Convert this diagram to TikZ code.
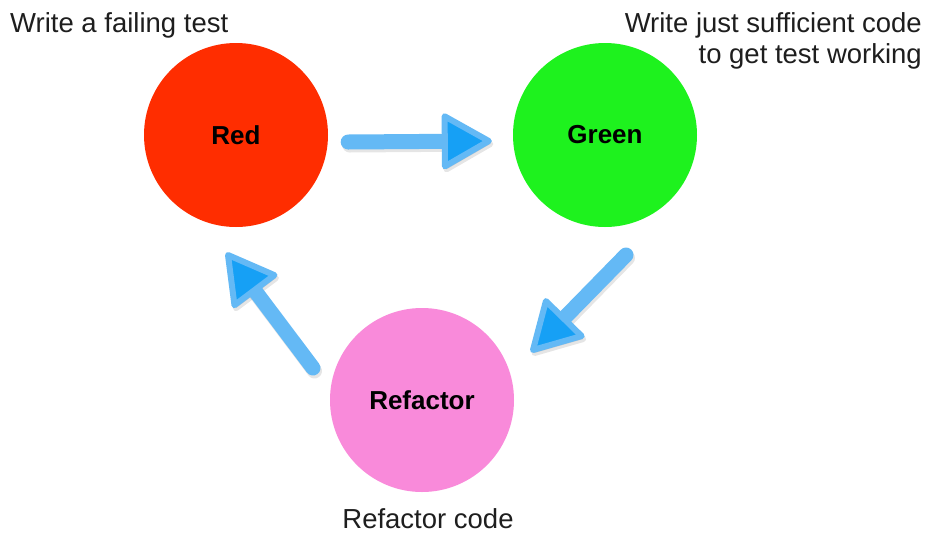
\documentclass[tikz,border=0pt]{standalone}
\usepackage{fontspec}
\setmainfont{Liberation Sans}
\usetikzlibrary{calc}
\definecolor{redstage}{RGB}{255,45,0}
\definecolor{greenstage}{RGB}{30,242,30}
\definecolor{pinkstage}{RGB}{249,138,218}
\definecolor{arrowlight}{RGB}{100,185,245}
\definecolor{arrowdark}{RGB}{22,160,245}
\definecolor{notetext}{RGB}{30,30,30}
\newcommand\cyclearrow[2]{%
  \coordinate (hb) at ($(#2)!44pt!(#1)$);
  \begin{scope}[transform canvas={shift={(1.5pt,-3pt)}}]
    \draw[arrowshadow, line width=15pt] (#1) -- (hb);
    \filldraw[arrowshadow, line width=6pt] (#2) -- ($(hb)!25pt!90:(#2)$) -- ($(hb)!25pt!-90:(#2)$) -- cycle;
  \end{scope}
  \draw[arrowshaft] (#1) -- (hb);
  \filldraw[arrowhead] (#2) -- ($(hb)!25pt!90:(#2)$) -- ($(hb)!25pt!-90:(#2)$) -- cycle;
}
\begin{document}
\begin{tikzpicture}[x=1pt, y=-1pt,
  every node/.style={font=\fontsize{27.5}{31}\selectfont, inner sep=0pt, text=notetext},
  stage/.style={circle, minimum size=184pt, text=black, font=\fontsize{26}{30}\selectfont\bfseries},
  arrowshaft/.style={line width=15pt, line cap=round, arrowlight},
  arrowhead/.style={draw=arrowlight, fill=arrowdark, line width=6pt, line join=round},
  arrowshadow/.style={line cap=round, line join=round, black, opacity=0.1}]
  \useasboundingbox[fill=white] (0,0) rectangle (930,539);
  \node[stage, fill=redstage] (red) at (236,135) {Red};
  \node[stage, fill=greenstage] (green) at (605,135) {Green};
  \node[stage, fill=pinkstage] (refactor) at (422,400) {Refactor};
  \node[anchor=base west] (failnote) at (10,32) {Write a failing test};
  \node[anchor=north east, align=right] (passnote) at (922,12) {Write just sufficient code\\to get test working};
  \node[anchor=base] (refactornote) at (428,528) {Refactor code};
  \coordinate (a1s) at ([shift={(20,7)}]red.east);
  \coordinate (a1e) at ([shift={(-24,6)}]green.west);
  \coordinate (a2s) at (626,255);
  \coordinate (a2e) at (533,350);
  \coordinate (a3s) at (313,368);
  \coordinate (a3e) at (228,255);
  \cyclearrow{a1s}{a1e}
  \cyclearrow{a2s}{a2e}
  \cyclearrow{a3s}{a3e}
\end{tikzpicture}
\end{document}
